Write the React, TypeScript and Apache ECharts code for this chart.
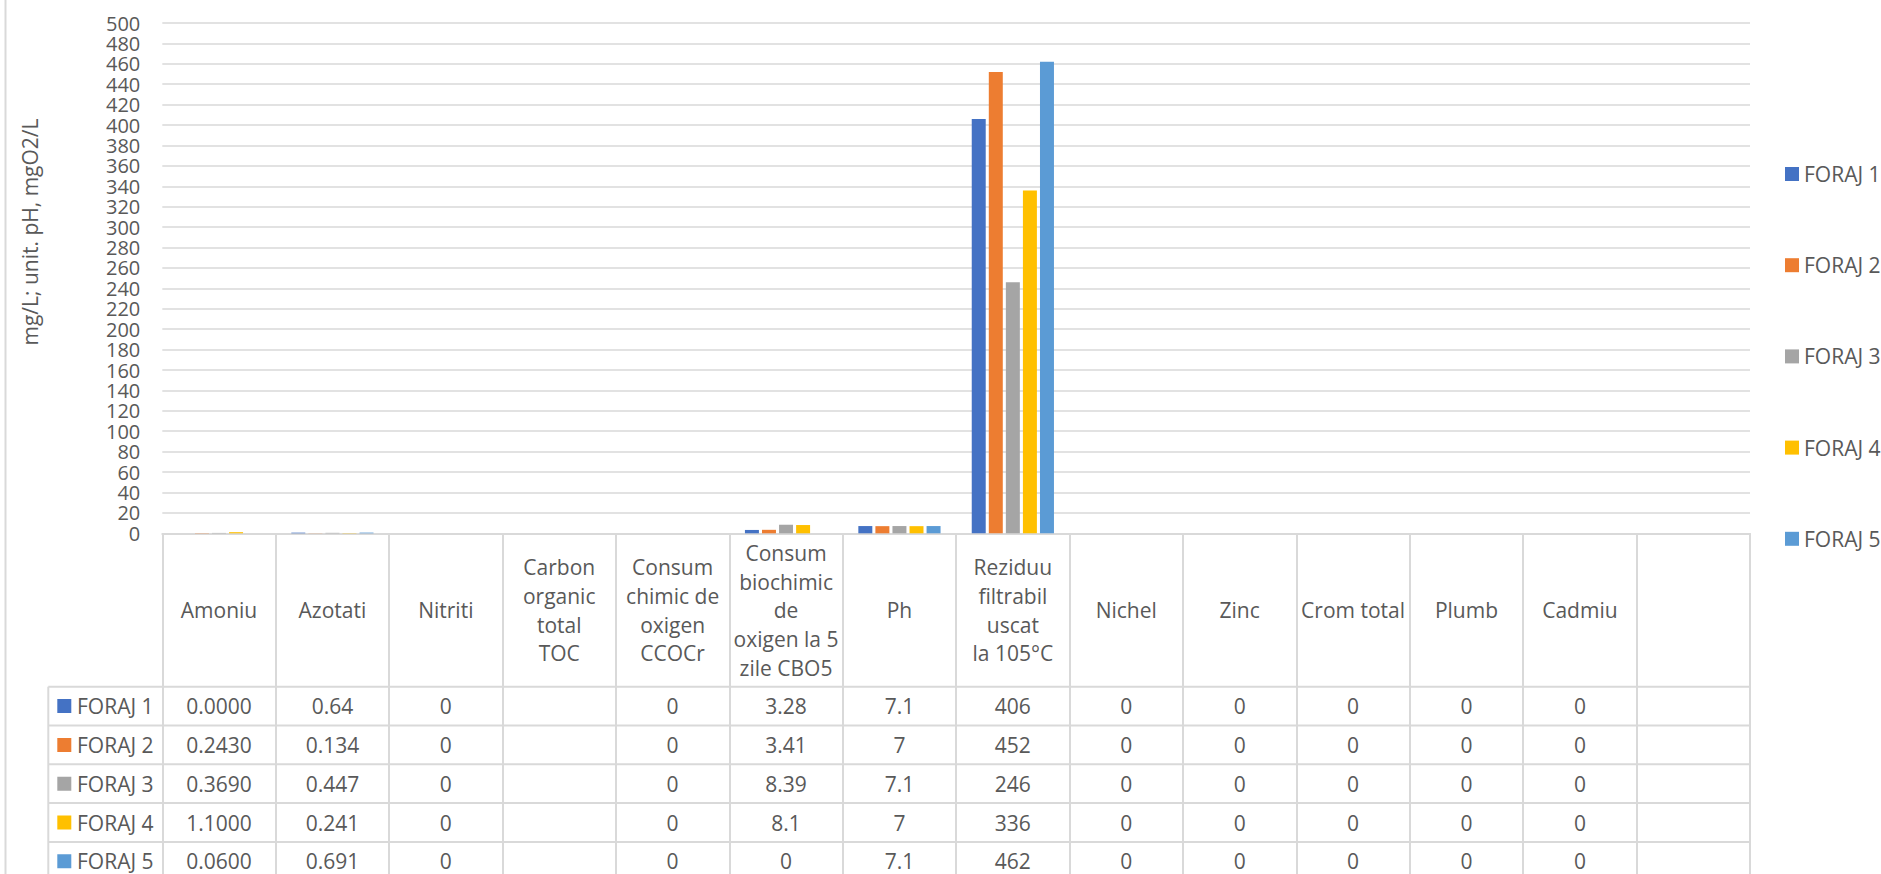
import React, { useEffect, useRef } from "react";
import * as echarts from "echarts";

const categories = [
  "Amoniu",
  "Azotati",
  "Nitriti",
  "Carbon\norganic\ntotal\nTOC",
  "Consum\nchimic de\noxigen\nCCOCr",
  "Consum\nbiochimic\nde\noxigen la 5\nzile CBO5",
  "Ph",
  "Reziduu\nfiltrabil\nuscat\nla 105°C",
  "Nichel",
  "Zinc",
  "Crom total",
  "Plumb",
  "Cadmiu",
  "",
];

const seriesNames = ["FORAJ 1", "FORAJ 2", "FORAJ 3", "FORAJ 4", "FORAJ 5"];
const seriesColors = ["#4472C4", "#ED7D31", "#A5A5A5", "#FFC000", "#5B9BD5"];

const foraj1 = [0.0, 0.64, 0, null, 0, 3.28, 7.1, 406, 0, 0, 0, 0, 0, null];
const foraj2 = [0.243, 0.134, 0, null, 0, 3.41, 7, 452, 0, 0, 0, 0, 0, null];
const foraj3 = [0.369, 0.447, 0, null, 0, 8.39, 7.1, 246, 0, 0, 0, 0, 0, null];
const foraj4 = [1.1, 0.241, 0, null, 0, 8.1, 7, 336, 0, 0, 0, 0, 0, null];
const foraj5 = [0.06, 0.691, 0, null, 0, 0, 7.1, 462, 0, 0, 0, 0, 0, null];
const seriesData = [foraj1, foraj2, foraj3, foraj4, foraj5];

// decimals shown in the data table per category (null = as is)
const tableDecimals = [4, null, null, null, null, null, null, null, null, null, null, null, null, null];

const yTicks = { min: 0, max: 500, interval: 20 };
const yAxisTitle = "mg/L; unit. pH, mgO2/L";

const FONT = "Open Sans";
const TEXT = "#595959";
const LINE = "#d9d9d9";

function fmt(v: number | null, d: number | null): string {
  if (v === null || v === undefined) return "";
  if (d !== null) return v.toFixed(d);
  return String(v);
}

export default function App() {
  const ref = useRef<HTMLDivElement>(null);

  useEffect(() => {
    document.body.style.margin = "0";
    document.body.style.overflow = "hidden";
    const el = ref.current!;
    const chart = echarts.init(el, undefined, { renderer: "svg" });

    const gridLeft = 162.3;
    const gridRightX = 1750;
    const gridTop = 23;
    const axisY = 533.3;
    const W = 1881;
    const H = 874;

    const option: any = {
      animation: false,
      backgroundColor: "#ffffff",
      textStyle: { fontFamily: FONT },
      grid: {
        left: gridLeft,
        right: W - gridRightX,
        top: gridTop,
        bottom: H - axisY,
        containLabel: false,
      },
      legend: {
        orient: "vertical",
        left: 1780,
        top: 157,
        itemWidth: 14,
        itemHeight: 14,
        itemGap: 67.2,
        icon: "rect",
        textStyle: { fontSize: 21, color: TEXT, fontFamily: FONT, lineHeight: 24 },
        data: seriesNames,
      },
      xAxis: {
        type: "category",
        data: categories,
        axisLine: { show: true, lineStyle: { color: LINE, width: 2 } },
        axisTick: { show: true, interval: 0, length: H - axisY + 10, lineStyle: { color: LINE, width: 2 } },
        axisLabel: {
          interval: 0,
          margin: 77,
          verticalAlign: "middle",
          align: "center",
          fontSize: 21,
          lineHeight: 28.7,
          color: TEXT,
          fontFamily: FONT,
        },
        splitLine: { show: false },
      },
      yAxis: {
        type: "value",
        min: yTicks.min,
        max: yTicks.max,
        interval: yTicks.interval,
        axisLine: { show: false },
        axisTick: { show: false },
        axisLabel: { fontSize: 20, lineHeight: 18, color: TEXT, fontFamily: FONT, margin: 22 },
        splitLine: { lineStyle: { color: LINE, width: 1.5 } },
      },
      series: seriesNames.map((name, i) => ({
        name,
        type: "bar",
        data: seriesData[i],
        barGap: "22%",
        barCategoryGap: "27.5%",
        itemStyle: { color: seriesColors[i] },
      })),
    };

    chart.setOption(option);

    // data table built from the same arrays, positioned with the chart's own scale
    const centers = categories.map((_, i) => chart.convertToPixel({ xAxisIndex: 0 }, i) as number);
    const zeroY = chart.convertToPixel({ yAxisIndex: 0 }, 0) as number;
    const headerH = 153.4;
    const rowH = 38.8;
    const rowStart = zeroY + headerH;
    const tableLeft = 48.3;
    const graphics: any[] = [];

    // chart area left border
    graphics.push({
      type: "line",
      shape: { x1: 5.5, y1: 0, x2: 5.5, y2: H },
      style: { stroke: LINE, lineWidth: 2 },
      silent: true,
    });

    // row label column left border
    graphics.push({
      type: "line",
      shape: { x1: tableLeft, y1: rowStart, x2: tableLeft, y2: H },
      style: { stroke: LINE, lineWidth: 2 },
      silent: true,
    });

    for (let r = 0; r <= seriesNames.length; r++) {
      const y = rowStart + r * rowH;
      graphics.push({
        type: "line",
        shape: { x1: tableLeft, y1: y, x2: gridRightX, y2: y },
        style: { stroke: LINE, lineWidth: 2 },
        silent: true,
      });
    }

    seriesNames.forEach((name, r) => {
      const cy = rowStart + r * rowH + rowH / 2;
      graphics.push({
        type: "rect",
        shape: { x: 57.3, y: cy - 7, width: 14, height: 14 },
        style: { fill: seriesColors[r] },
        silent: true,
      });
      graphics.push({
        type: "text",
        style: {
          text: name,
          x: 77,
          y: cy,
          textAlign: "left",
          textVerticalAlign: "middle",
          align: "left",
          verticalAlign: "middle",
          font: `21px "${FONT}"`,
          fill: TEXT,
        },
        silent: true,
      });
      seriesData[r].forEach((v, c) => {
        const s = fmt(v as number | null, tableDecimals[c]);
        if (!s) return;
        graphics.push({
          type: "text",
          style: {
            text: s,
            x: centers[c],
            y: cy,
            textAlign: "center",
            textVerticalAlign: "middle",
            align: "center",
            verticalAlign: "middle",
            font: `21px "${FONT}"`,
            fill: TEXT,
          },
          silent: true,
        });
      });
    });

    // y-axis title
    graphics.push({
      type: "text",
      x: 30,
      y: 232,
      rotation: Math.PI / 2,
      style: {
        text: yAxisTitle,
        x: 0,
        y: 0,
        textAlign: "center",
        textVerticalAlign: "middle",
        align: "center",
        verticalAlign: "middle",
        font: `21px "${FONT}"`,
        fill: TEXT,
      },
      silent: true,
    });

    chart.setOption({ graphic: graphics });

    return () => {
      chart.dispose();
    };
  }, []);

  return (
    <div
      ref={ref}
      style={{ position: "absolute", left: 0, top: 0, width: 1881, height: 874 }}
    />
  );
}
